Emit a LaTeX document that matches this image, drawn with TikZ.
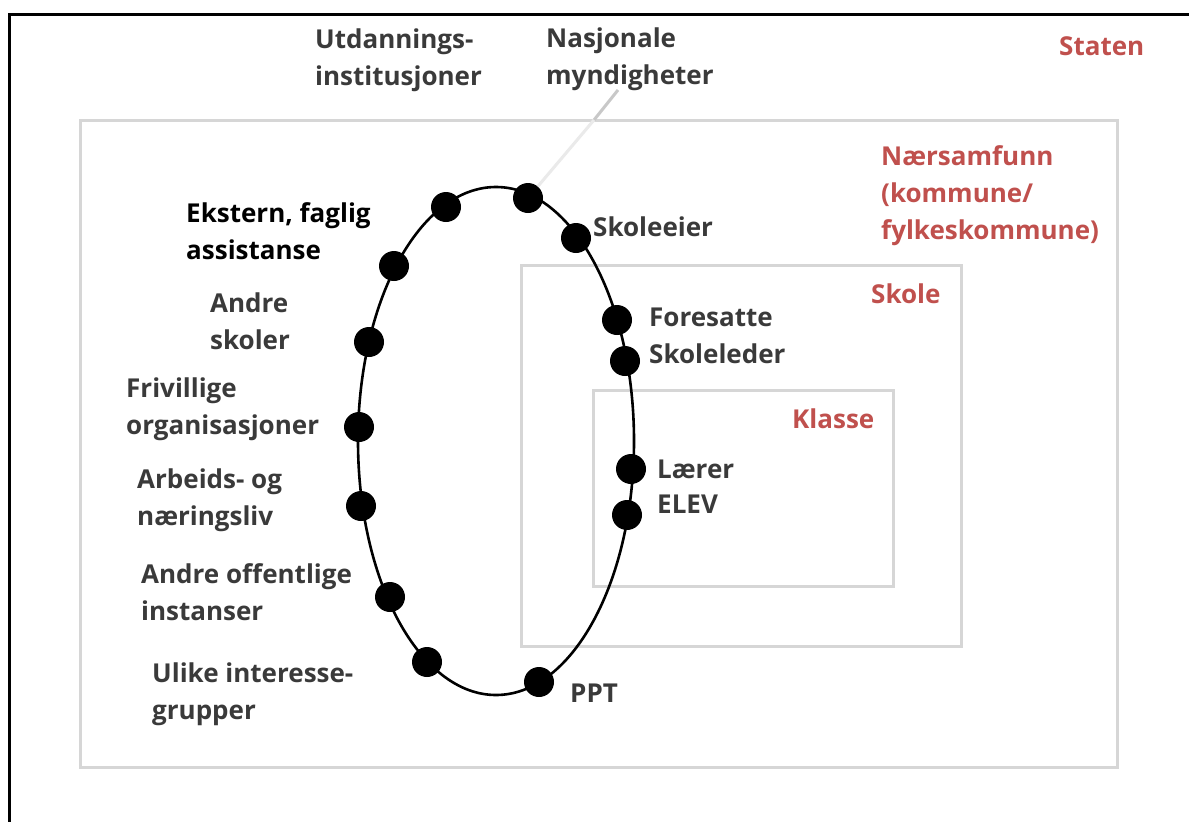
\documentclass[tikz,border=0pt]{standalone}
\usepackage{fontspec}
\setmainfont{Open Sans}
\definecolor{txt}{HTML}{3A3A3A}
\definecolor{lvl}{HTML}{C0504D}
\definecolor{boxgray}{HTML}{D6D6D6}
\definecolor{linkgray}{HTML}{C8C8C8}
\definecolor{linklight}{HTML}{EAEAEA}
\newcommand{\lblfont}{\fontsize{26}{37}\selectfont\bfseries}
\begin{document}
\begin{tikzpicture}[x=1pt,y=-1pt,
  lbl/.style={anchor=north west, inner sep=0pt, align=left, font=\lblfont, text=txt},
  lvllbl/.style={lbl, text=lvl},
  levelbox/.style={draw=boxgray, line width=3pt},
  dot/.style={circle, fill=black, inner sep=0pt, minimum size=30pt},
  ring/.style={draw=black, line width=2.6pt}]
\useasboundingbox (0,0) rectangle (1189,822);
\fill[white] (0,0) rectangle (1189,822);
% outer frame
\draw[line width=3pt] (9,830) -- (9,14) -- (1200,14);
% level boxes
\draw[levelbox] (80,120) rectangle (1117,767);
\draw[levelbox] (521,265) rectangle (961,646);
\draw[levelbox] (593,390) rectangle (893,586);
% ring
\draw[ring] (496,441) ellipse [x radius=138, y radius=254];
% dots
\node[dot] (dUtd) at (446,207) {};
\node[dot] (dNas) at (528,198) {};
\node[dot] (dEier) at (576,238) {};
\node[dot] (dEks) at (394,266) {};
\node[dot] (dFor) at (617,320) {};
\node[dot] (dLed) at (625,361) {};
\node[dot] (dAnd) at (369,342) {};
\node[dot] (dFri) at (359,427) {};
\node[dot] (dArb) at (361,506) {};
\node[dot] (dOff) at (390,597) {};
\node[dot] (dUli) at (427,662) {};
\node[dot] (dPPT) at (539,682) {};
\node[dot] (dLar) at (631,469) {};
\node[dot] (dElev) at (627,515) {};
% labels
\node[lbl] (utd) at (315,22) {\strut Utdannings-\\institusjoner};
\node[lbl] (nas) at (546,21) {\strut Nasjonale\\myndigheter};
\node[lvllbl] (staten) at (1059,29) {\strut Staten};
\node[lvllbl] (naer) at (881,139) {\strut Nærsamfunn\\(kommune/\\fylkeskommune)};
\node[lbl, text=black] (eks) at (186,196) {\strut Ekstern, faglig\\assistanse};
\node[lbl] (eier) at (593,210) {\strut Skoleeier};
\node[lvllbl] (skole) at (871,277) {\strut Skole};
\node[lbl] (andre) at (210,286) {\strut Andre\\skoler};
\node[lbl] (for) at (649,300) {\strut Foresatte};
\node[lbl] (led) at (649,337) {\strut Skoleleder};
\node[lbl] (fri) at (126,371) {\strut Frivillige\\organisasjoner};
\node[lvllbl] (klasse) at (792,402) {\strut Klasse};
\node[lbl] (lar) at (657,452) {\strut Lærer};
\node[lbl] (elev) at (657,487) {\strut ELEV};
\node[lbl] (arb) at (137,462) {\strut Arbeids- og\\næringsliv};
\node[lbl] (off) at (141,557) {\strut Andre offentlige\\instanser};
\node[lbl] (uli) at (152,656) {\strut Ulike interesse-\\grupper};
\node[lbl] (ppt) at (570,676) {\strut PPT};
% connector from Nasjonale myndigheter
\coordinate (nasFoot) at (618,90);
\coordinate (nasCross) at (594,120);
\draw[draw=linkgray, line width=3pt] (nasFoot) -- (nasCross);
\draw[draw=linklight, line width=3pt] (nasCross) -- (dNas);
\end{tikzpicture}
\end{document}
